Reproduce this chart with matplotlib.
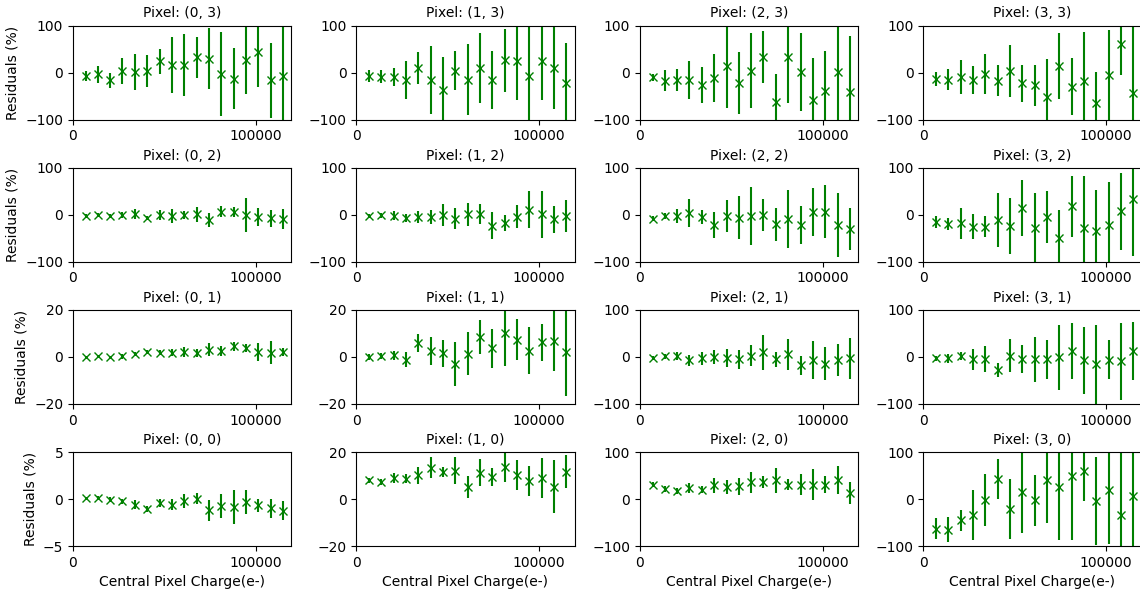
import matplotlib
matplotlib.use("Agg")
import matplotlib.pyplot as plt

# central pixel charge bins (e-)
charge = [6900, 13600, 20400, 27100, 33900, 40600, 47400, 54100, 60900,
          67600, 74400, 81100, 87900, 94600, 101400, 108100, 114900]

# residuals (%) and errors for each pixel (i, j)
res_0_3 = [-7, -3, -16, 3, 1, 3, 24, 17, 17, 33, 30, -3, -13, 28, 44, -16, -7]
err_0_3 = [10, 18, 16, 28, 38, 34, 26, 60, 66, 44, 65, 90, 65, 73, 74, 80, 110]
res_1_3 = [-7, -9, -9, -16, 10, -16, -36, 4, -15, 10, -15, 26, 24, -7, 25, 10, -21]
err_1_3 = [12, 14, 19, 41, 34, 73, 70, 42, 75, 74, 62, 67, 82, 105, 83, 88, 85]
res_2_3 = [-10, -17, -16, -16, -26, -12, 14, -22, 4, 33, -63, 33, 2, -58, -39, 1, -42]
err_2_3 = [7, 23, 23, 40, 39, 51, 90, 66, 80, 56, 60, 98, 83, 90, 85, 110, 120]
res_3_3 = [-14, -15, -9, -15, -3, -17, 3, -23, -27, -51, 14, -30, -18, -64, -6, 60, -43]
err_3_3 = [15, 23, 37, 30, 43, 33, 55, 39, 43, 80, 71, 61, 105, 65, 96, 65, 150]

res_0_2 = [-2, -1, -3, -1, 1, -7, -1, -2, 0, 1, -12, 7, 6, 0, -4, -7, -9]
err_0_2 = [4, 4, 4, 6, 11, 5, 11, 15, 8, 16, 15, 11, 10, 36, 19, 18, 22]
res_1_2 = [-3, -1, -2, -7, -5, -5, -1, -8, 1, 2, -23, -17, -4, 11, 1, -10, -3]
err_1_2 = [4, 5, 10, 9, 13, 15, 23, 23, 25, 21, 28, 17, 25, 40, 50, 29, 34]
res_2_2 = [-8, -3, -2, 4, -5, -22, -2, -6, -2, -1, -20, -9, -22, 6, 7, -22, -30]
err_2_2 = [5, 7, 15, 29, 15, 27, 34, 45, 62, 34, 35, 61, 40, 51, 56, 68, 45]
res_3_2 = [-15, -19, -18, -25, -25, -11, -24, 15, -28, -5, -49, 18, -28, -35, -21, 8, 33]
err_3_2 = [13, 13, 33, 26, 23, 58, 59, 60, 75, 56, 60, 65, 110, 88, 90, 82, 120]

res_0_1 = [0, 0.3, 0, 0.3, 1.4, 2.1, 1.8, 1.8, 2.1, 1.8, 3.1, 2.5, 4.5, 3.8, 2.1, 1.7, 2.1]
err_0_1 = [0.3, 0.5, 0.5, 1, 0.8, 1, 1, 1.4, 2, 1.7, 2.8, 2.3, 1.9, 1.8, 3.9, 4.9, 1.7]
res_1_1 = [0, 0.4, 0.7, -1.1, 5.9, 2.6, 1.5, -3, 1.3, 8.4, 3.7, 10.2, 7.4, 2.7, 6.2, 7, 2.3]
err_1_1 = [1.1, 1.3, 1.8, 3.3, 3.9, 6.1, 5.6, 9.2, 9.2, 7.3, 8.2, 14, 8.6, 10, 8, 12.8, 19]
res_2_1 = [-3, 1, 2, -7, -3, 0, -3, -5, 3, 10, -5, 6, -18, -7, -14, -7, -3]
err_2_1 = [4, 5, 8, 12, 14, 14, 19, 20, 23, 37, 16, 33, 20, 40, 35, 34, 43]
res_3_1 = [-3, -3, 2, -5, -5, -28, 3, -4, -5, -5, -1, 13, -7, -16, -6, -9, 13]
err_3_1 = [5, 10, 9, 22, 28, 15, 35, 30, 48, 41, 70, 60, 71, 84, 42, 82, 62]

res_0_0 = [0.15, 0.15, -0.05, -0.25, -0.6, -1.05, -0.4, -0.6, -0.25, 0.05, -1.2, -0.75, -0.85, -0.3, -0.65, -1.0, -1.25]
err_0_0 = [0.1, 0.15, 0.3, 0.25, 0.45, 0.35, 0.45, 0.6, 0.75, 0.55, 1.1, 1.25, 1.8, 1.3, 0.7, 1.05, 1.0]
res_1_0 = [8, 7.3, 9, 8.7, 10.1, 13.4, 11.6, 12.1, 5.2, 11.2, 9.3, 13.8, 10.3, 7.8, 8.9, 5.3, 11.7]
err_1_0 = [1.1, 1.3, 2.2, 1.8, 3.5, 4.6, 2.1, 5.8, 4.6, 5.7, 3.8, 6.4, 6.5, 6.3, 8.5, 11.2, 7.1]
res_2_0 = [31, 22, 17, 24, 20, 29, 26, 27, 36, 36, 40, 31, 31, 31, 31, 40, 13]
err_2_0 = [5, 6, 7, 10, 8, 15, 15, 18, 22, 13, 27, 12, 22, 33, 18, 30, 23]
res_3_0 = [-63, -65, -45, -34, -2, 43, -21, 16, -3, 40, 26, 50, 60, -4, 20, -33, 6]
err_3_0 = [23, 27, 22, 54, 55, 43, 63, 89, 55, 91, 113, 137, 64, 93, 115, 133, 120]

ylims = {(0, 1): 20, (1, 1): 20, (0, 0): 5, (1, 0): 20}

residuals = {
    (0, 3): (res_0_3, err_0_3), (1, 3): (res_1_3, err_1_3),
    (2, 3): (res_2_3, err_2_3), (3, 3): (res_3_3, err_3_3),
    (0, 2): (res_0_2, err_0_2), (1, 2): (res_1_2, err_1_2),
    (2, 2): (res_2_2, err_2_2), (3, 2): (res_3_2, err_3_2),
    (0, 1): (res_0_1, err_0_1), (1, 1): (res_1_1, err_1_1),
    (2, 1): (res_2_1, err_2_1), (3, 1): (res_3_1, err_3_1),
    (0, 0): (res_0_0, err_0_0), (1, 0): (res_1_0, err_1_0),
    (2, 0): (res_2_0, err_2_0), (3, 0): (res_3_0, err_3_0),
}

fig, axes = plt.subplots(4, 4, figsize=(11.4, 5.91), dpi=100)
fig.subplots_adjust(left=0.064, right=1.0013, top=0.9565, bottom=0.0761,
                    wspace=0.30, hspace=0.514)

for row in range(4):
    j = 3 - row
    for i in range(4):
        ax = axes[row, i]
        res, err = residuals[(i, j)]
        ax.errorbar(charge, res, yerr=err, fmt='gx')
        lim = ylims.get((i, j), 100)
        ax.set_ylim(-lim, lim)
        ax.set_yticks([-lim, 0, lim])
        ax.set_xlim(0, 119300)
        ax.set_xticks([0, 100000])
        ax.set_title(f"Pixel: ({i}, {j})", fontsize=10)
        if i == 0:
            ax.set_ylabel("Residuals (%)")
        if row == 3:
            ax.set_xlabel("Central Pixel Charge(e-)")

fig.savefig("out.png", dpi=100)
